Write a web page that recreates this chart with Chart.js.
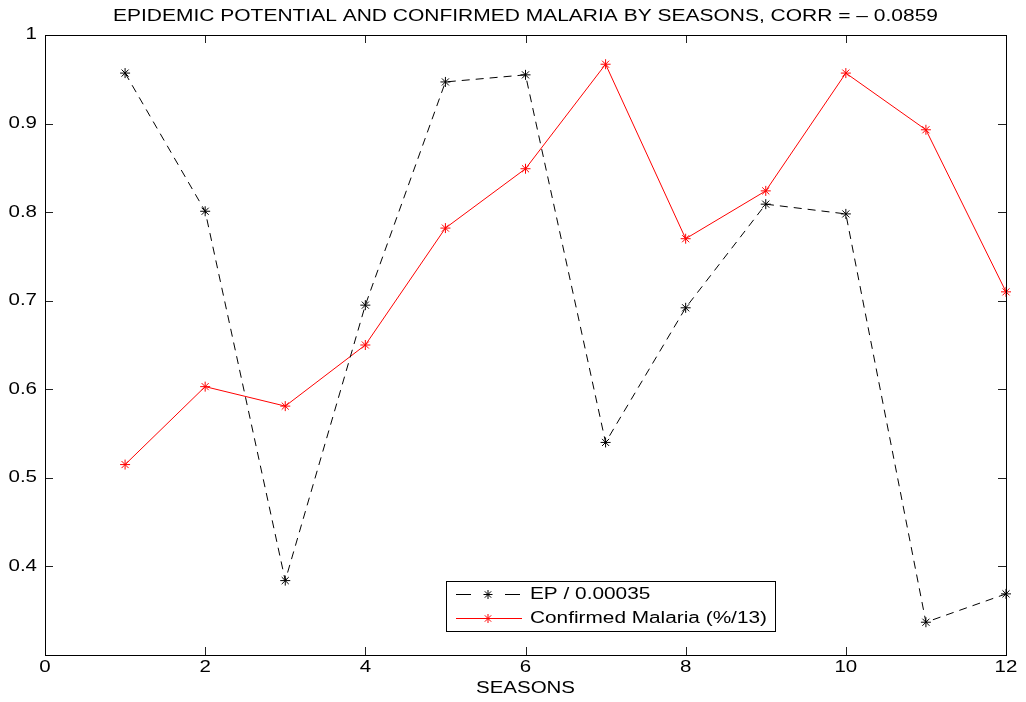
<!DOCTYPE html>
<html>
<head>
<meta charset="utf-8">
<script src="https://cdn.jsdelivr.net/npm/chart.js@4"></script>
<style>
  html, body { margin: 0; padding: 0; background: #fff; }
  #wrap { width: 1026px; height: 702px; }
</style>
</head>
<body>
<div id="wrap"><canvas id="c" width="1026" height="702"></canvas></div>
<script>
// Seasons 1..12
const seasons = [1, 2, 3, 4, 5, 6, 7, 8, 9, 10, 11, 12];
// Epidemic potential, scaled by 0.00035
const epValues = [0.957, 0.801, 0.384, 0.695, 0.947, 0.955, 0.540, 0.692, 0.809, 0.798, 0.337, 0.369];
// Confirmed malaria, percent divided by 13
const malariaValues = [0.515, 0.603, 0.581, 0.650, 0.782, 0.849, 0.967, 0.770, 0.824, 0.957, 0.893, 0.710];
const xTicks = [0, 2, 4, 6, 8, 10, 12];
const yTicks = [0.4, 0.5, 0.6, 0.7, 0.8, 0.9, 1];

const titleText = 'EPIDEMIC POTENTIAL AND CONFIRMED MALARIA BY SEASONS, CORR = \u2013 0.0859';
const xTitle = 'SEASONS';
const seriesNames = ['EP / 0.00035', 'Confirmed Malaria (%/13)'];
const FONT = '"Liberation Sans", Arial, Helvetica, sans-serif';
const WIDE = 1.28; // horizontal stretch of the label lettering

const toPoints = (ys) => seasons.map((x, i) => ({ x, y: ys[i] }));
const fmt = v => (Math.round(v * 10) / 10).toString();

// text drawn with a horizontal scale factor
function wideText(ctx, text, x, y, align, sx, size) {
  ctx.save();
  ctx.font = size + 'px ' + FONT;
  ctx.textBaseline = 'middle';
  ctx.textAlign = 'left';
  const w = ctx.measureText(text).width * sx;
  let left = x;
  if (align === 'center') left = x - w / 2;
  else if (align === 'right') left = x - w;
  ctx.translate(left, y);
  ctx.scale(sx, 1);
  ctx.fillStyle = '#000';
  ctx.fillText(text, 0, 0);
  ctx.restore();
}

// Axes box, inward ticks, labels, title and the boxed legend
const framePlugin = {
  id: 'frame',
  afterDatasetsDraw(chart) {
    const { ctx, chartArea: a, scales } = chart;
    ctx.save();
    // inward tick marks on all four sides
    ctx.strokeStyle = '#222';
    ctx.lineWidth = 1;
    const L = 8;
    ctx.beginPath();
    xTicks.forEach(v => {
      const px = Math.round(scales.x.getPixelForValue(v)) + 0.5;
      ctx.moveTo(px, a.bottom); ctx.lineTo(px, a.bottom - L);
      ctx.moveTo(px, a.top); ctx.lineTo(px, a.top + L);
    });
    yTicks.forEach(v => {
      const py = Math.round(scales.y.getPixelForValue(v)) + 0.5;
      ctx.moveTo(a.left, py); ctx.lineTo(a.left + L, py);
      ctx.moveTo(a.right, py); ctx.lineTo(a.right - L, py);
    });
    ctx.stroke();
    // box
    ctx.strokeStyle = '#000';
    ctx.strokeRect(Math.round(a.left) + 0.5, Math.round(a.top) + 0.5,
                   Math.round(a.right - a.left), Math.round(a.bottom - a.top));

    // tick labels
    xTicks.forEach(v => {
      wideText(ctx, String(v), scales.x.getPixelForValue(v), a.bottom + 13, 'center', WIDE, 16);
    });
    yTicks.forEach(v => {
      wideText(ctx, fmt(v), a.left - 8, scales.y.getPixelForValue(v), 'right', WIDE, 16);
    });
    // x axis title
    wideText(ctx, xTitle, (a.left + a.right) / 2, 689, 'center', WIDE, 16);

    // title, fitted to its width
    ctx.font = '16px ' + FONT;
    const tw = ctx.measureText(titleText).width;
    wideText(ctx, titleText, (a.left + a.right) / 2, 17, 'center', 825 / tw, 16);

    // legend
    const bx = 446.5, by = 581.5, bw = 329, bh = 50;
    ctx.fillStyle = '#fff';
    ctx.fillRect(bx, by, bw, bh);
    ctx.strokeStyle = '#000';
    ctx.lineWidth = 1;
    ctx.strokeRect(bx, by, bw, bh);
    const rows = [594, 618];
    chart.data.datasets.forEach((ds, i) => {
      const y = rows[i] + 0.5;
      ctx.strokeStyle = ds.borderColor;
      ctx.beginPath();
      if (ds.borderDash) {
        // dashed sample: one dash either side of the marker
        ctx.moveTo(456, y); ctx.lineTo(471, y);
        ctx.moveTo(505, y); ctx.lineTo(520, y);
      } else {
        ctx.moveTo(456, y); ctx.lineTo(522, y);
      }
      ctx.stroke();
      // asterisk marker
      const mx = 488, r = 4.5;
      ctx.beginPath();
      for (let k = 0; k < 4; k++) {
        const ang = k * Math.PI / 4;
        ctx.moveTo(mx - r * Math.sin(ang), y - r * Math.cos(ang));
        ctx.lineTo(mx + r * Math.sin(ang), y + r * Math.cos(ang));
      }
      ctx.stroke();
      wideText(ctx, seriesNames[i], 530, rows[i] + 1, 'left', 1.3, 16);
    });
    ctx.restore();
  }
};

new Chart(document.getElementById('c'), {
  type: 'line',
  data: {
    datasets: [
      {
        label: seriesNames[0],
        data: toPoints(epValues),
        borderColor: '#000',
        backgroundColor: '#000',
        borderWidth: 1,
        borderDash: [8, 6],
        pointStyle: 'star',
        pointRadius: 5,
        pointBorderWidth: 1,
        pointBorderColor: '#000',
        tension: 0,
        fill: false,
        clip: false
      },
      {
        label: seriesNames[1],
        data: toPoints(malariaValues),
        borderColor: '#ff0000',
        backgroundColor: '#ff0000',
        borderWidth: 1,
        pointStyle: 'star',
        pointRadius: 5,
        pointBorderWidth: 1,
        pointBorderColor: '#ff0000',
        tension: 0,
        fill: false,
        clip: false
      }
    ]
  },
  options: {
    responsive: false,
    animation: false,
    events: [],
    layout: { padding: { top: 35, right: 20, left: 0, bottom: 0 } },
    plugins: {
      legend: { display: false },
      tooltip: { enabled: false },
      title: { display: false }
    },
    scales: {
      x: {
        type: 'linear',
        min: 0,
        max: 12,
        afterFit(s) { s.height = 47; },
        afterBuildTicks(s) { s.ticks = xTicks.map(v => ({ value: v })); },
        grid: { display: false, drawTicks: false },
        border: { display: false },
        ticks: { display: false }
      },
      y: {
        type: 'linear',
        min: 0.3,
        max: 1,
        afterFit(s) { s.width = 45; },
        afterBuildTicks(s) { s.ticks = yTicks.map(v => ({ value: v })); },
        grid: { display: false, drawTicks: false },
        border: { display: false },
        ticks: { display: false }
      }
    }
  },
  plugins: [framePlugin]
});
</script>
</body>
</html>
